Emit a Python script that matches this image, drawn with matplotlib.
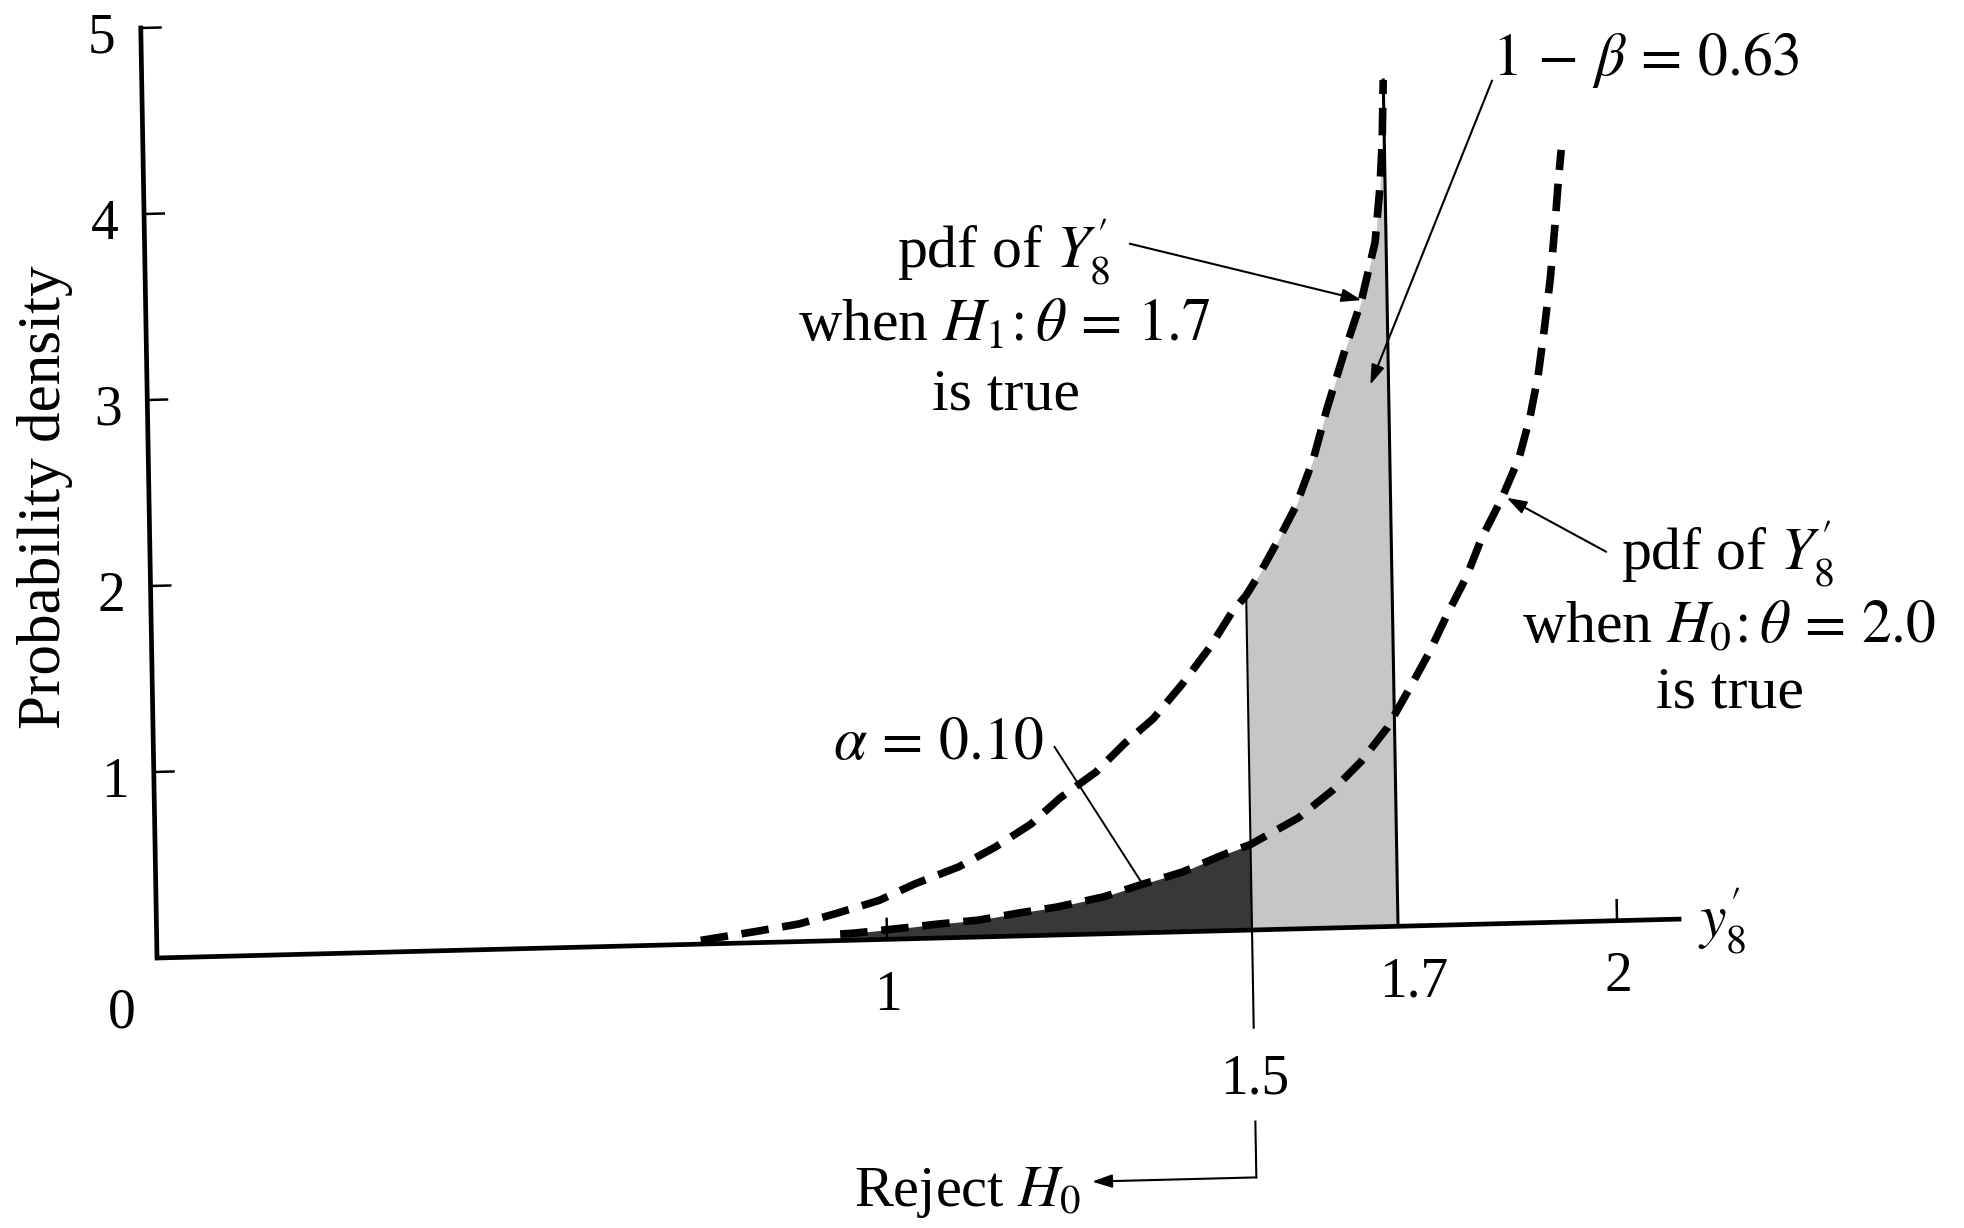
import matplotlib
matplotlib.use("Agg")
import matplotlib.pyplot as plt
import matplotlib.transforms as mtransforms
import numpy as np

# pdf of Y'_8 (largest of 8 uniform draws)
h1_y8 = [0.745, 0.82, 0.88, 0.93, 0.99, 1.04, 1.10, 1.15, 1.20, 1.24, 1.29, 1.33,
         1.37, 1.41, 1.45, 1.48, 1.50, 1.52, 1.545, 1.57, 1.595, 1.615, 1.64,
         1.665, 1.685, 1.693, 1.697, 1.70]
h1_pdf = [0.02, 0.06, 0.095, 0.145, 0.21, 0.295, 0.38, 0.48, 0.60, 0.735, 0.87, 1.02,
          1.15, 1.33, 1.53, 1.71, 1.80, 1.92, 2.09, 2.27, 2.52, 2.79, 3.09,
          3.37, 3.68, 3.98, 4.21, 4.55]

h0_y8 = [0.936, 0.955, 1.011, 1.070, 1.126, 1.182, 1.233, 1.297, 1.352, 1.406, 1.462,
         1.50, 1.566, 1.614, 1.653, 1.690, 1.722, 1.749, 1.776, 1.802, 1.824, 1.852,
         1.877, 1.893, 1.905, 1.915, 1.924, 1.931, 1.937, 1.942]
h0_pdf = [0.035, 0.038, 0.055, 0.075, 0.091, 0.124, 0.150, 0.198, 0.262, 0.321, 0.408,
          0.46, 0.596, 0.741, 0.889, 1.068, 1.280, 1.465, 1.678, 1.868, 2.076, 2.283,
          2.501, 2.72, 2.94, 3.20, 3.46, 3.72, 3.97, 4.15]

critical = 1.5      # reject H0 when y'_8 <= 1.5
theta_1 = 1.7
y_ticks = [1, 2, 3, 4, 5]
x_ticks = [1, 2]
x_tick_labels = {1: "1", 1.72: "1.7", 2: "2"}

plt.rcParams["font.family"] = "serif"
plt.rcParams["font.serif"] = ["Liberation Serif", "DejaVu Serif"]
plt.rcParams["mathtext.fontset"] = "stix"
FS_TICK = 40
FS = 43

fig = plt.figure(figsize=(19.65, 12.28), dpi=100)
ax = fig.add_axes([0, 0, 1, 1])
ax.axis("off")

# the page was printed a little skewed: x axis climbs to the right, y axis leans left
skew = mtransforms.Affine2D(np.array([[1.0, -0.00445, 0.0],
                                      [0.1003, 1.0, 0.0],
                                      [0.0, 0.0, 1.0]])) + ax.transData

h1x, h1y = np.array(h1_y8), np.array(h1_pdf)
h0x, h0y = np.array(h0_y8), np.array(h0_pdf)

# shaded areas: alpha under H0 left of 1.5, power under H1 between 1.5 and 1.7
m0 = h0x <= critical
ax.fill_between(h0x[m0], 0, h0y[m0], transform=skew, color="#383838", lw=0)
m1 = (h1x >= critical) & (h1x <= theta_1)
ax.fill_between(h1x[m1], 0, h1y[m1], transform=skew, color="#c6c6c6", lw=0)

# axes drawn by hand so they follow the skew
ax.plot([0, 0, 2.085], [5, 0, 0], transform=skew, color="black", lw=3.4,
        solid_joinstyle="miter")
for t in y_ticks:
    ax.plot([0, 0.027], [t, t], transform=skew, color="black", lw=1.8)
    ax.text(-0.035, t - 0.13, str(t), transform=skew, fontsize=FS_TICK,
            ha="right", va="baseline")
for t in x_ticks:
    ax.plot([t, t], [0, 0.11], transform=skew, color="black", lw=1.8)
for pos, lab in x_tick_labels.items():
    ax.text(pos, -0.38, lab, transform=skew, fontsize=FS_TICK, ha="center",
            va="baseline")
ax.text(-0.05, -0.37, "0", transform=skew, fontsize=FS_TICK, ha="center",
        va="baseline")

ax.text(-0.143, 2.49, "Probability density", transform=skew, fontsize=44,
        rotation=90, ha="center", va="center")
ax.text(2.11, -0.10, r"$y_8^{\prime}$", transform=skew, fontsize=FS,
        ha="left", va="baseline")

# edge of the power region and the critical value line
ax.plot([theta_1, theta_1], [0, h1y[-1]], transform=skew, color="black", lw=2.2)
h1_at_crit = h1y[h1x == critical][0]
ax.plot([critical, critical], [h1_at_crit, -0.525], transform=skew,
        color="black", lw=1.5)
ax.plot([critical, critical], [-1.03, -1.33], transform=skew, color="black", lw=1.5)
ax.text(critical, -0.88, "1.5", transform=skew, fontsize=FS_TICK, ha="center",
        va="baseline")

arrow = dict(arrowstyle="-|>,head_length=0.6,head_width=0.2", color="black",
             lw=1.5, shrinkA=0, shrinkB=0, mutation_scale=20)
ax.annotate("", xy=(1.275, -1.33), xytext=(critical, -1.33), xycoords=skew,
            textcoords=skew, arrowprops=arrow)
ax.text(1.26, -1.46, r"Reject $H_0$", transform=skew, fontsize=42,
        ha="right", va="baseline")

# the two pdf curves
dash = (0, (3.6, 1.8))
ax.plot(h1x, h1y, transform=skew, color="black", lw=5.5, linestyle=dash,
        dash_capstyle="butt")
ax.plot(h0x, h0y, transform=skew, color="black", lw=5.5, linestyle=dash,
        dash_capstyle="butt")

# labels for the H1 curve
for yy, s in [(3.59, r"pdf of $Y_8^{\prime}$"),
              (3.20, r"when $H_1\!:\theta\,=\,1.7$"),
              (2.83, "is true")]:
    ax.text(1.175, yy, s, transform=skew, fontsize=FS, ha="center", va="baseline")
ax.annotate("", xy=(1.665, 3.37), xytext=(1.349, 3.705), xycoords=skew,
            textcoords=skew, arrowprops=arrow)

# labels for the H0 curve
for yy, s in [(1.87, r"pdf of $Y_8^{\prime}$"),
              (1.48, r"when $H_0\!:\theta\,=\,2.0$"),
              (1.13, "is true")]:
    ax.text(2.16, yy, s, transform=skew, fontsize=FS, ha="center", va="baseline")
ax.annotate("", xy=(1.859, 2.288), xytext=(1.994, 1.984), xycoords=skew,
            textcoords=skew, arrowprops=arrow)

# area labels
ax.text(2.06, 4.54, r"$1\,-\,\beta\,=\,0.63$", transform=skew, fontsize=FS,
        ha="center", va="baseline")
ax.annotate("", xy=(1.675, 2.914), xytext=(1.849, 4.532), xycoords=skew,
            textcoords=skew, arrowprops=arrow)
ax.text(1.075, 0.96, r"$\alpha\,=\,0.10$", transform=skew, fontsize=FS,
        ha="center", va="baseline")
ax.plot([1.234, 1.352], [1.011, 0.257], transform=skew, color="black", lw=1.4)

ax.set_xlim(-0.2151, 2.4767)
ax.set_ylim(-1.4516, 5.1505)

fig.savefig("out.png", dpi=100)
